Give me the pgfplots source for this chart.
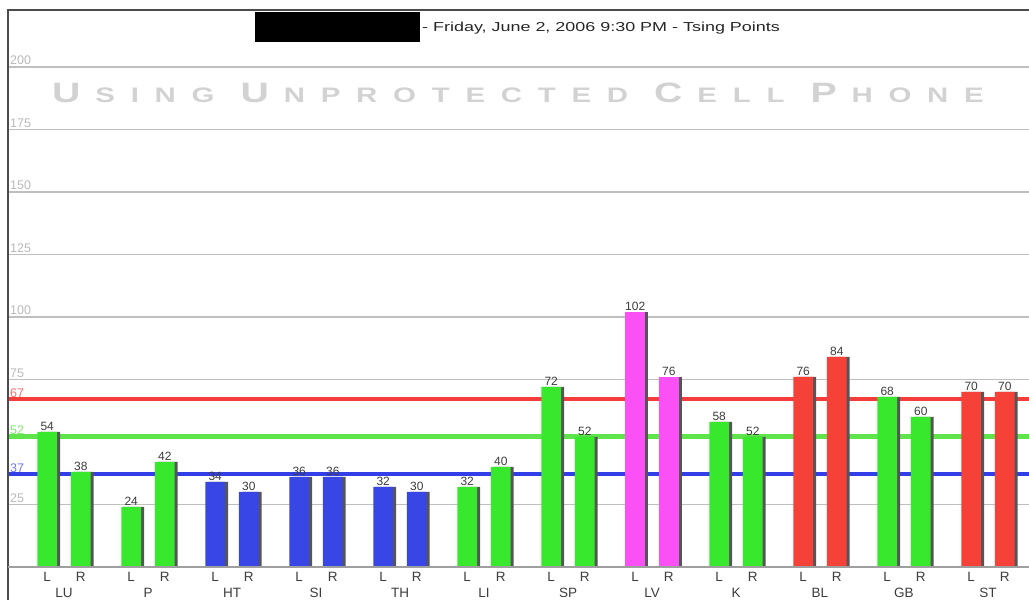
\documentclass[border=0pt]{standalone}
\usepackage{fontspec}
\setmainfont{Liberation Sans}
\newfontfamily\spaced[LetterSpace=75,FakeStretch=1.4]{Liberation Sans}
\newfontfamily\header[FakeStretch=1.38]{Liberation Sans}
\usepackage{pgfplots}
\usepackage{pgfplotstable}
\pgfplotsset{compat=1.18}

\definecolor{cgreen}{RGB}{55,232,45}
\definecolor{cblue}{RGB}{55,70,228}
\definecolor{cmag}{RGB}{250,80,245}
\definecolor{cred}{RGB}{245,65,55}
\definecolor{lred}{RGB}{245,60,60}
\definecolor{lgreen}{RGB}{95,228,75}
\definecolor{lblue}{RGB}{50,62,232}
\definecolor{shadow}{RGB}{85,85,85}
\definecolor{txt}{RGB}{60,60,60}
\definecolor{ticklbl}{RGB}{185,185,185}
\definecolor{titlegray}{RGB}{210,210,210}

% columns: group index, left value, right value
\pgfplotstableread{
x L R
0 54 38
1 24 42
5 32 40
6 72 52
8 58 52
10 68 60
}\greendata
\pgfplotstableread{
x L R
2 34 30
3 36 36
4 32 30
}\bluedata
\pgfplotstableread{
x L R
7 102 76
}\magdata
\pgfplotstableread{
x L R
9 76 84
11 70 70
}\reddata

\newcommand\BigCap[1]{{\fontsize{28}{28}\selectfont #1}\hspace{15pt}}

\begin{document}
\begin{tikzpicture}
\useasboundingbox (-8pt,-33pt) rectangle (1021pt,567pt);
\begin{axis}[
  at={(0,0)}, anchor=south west,
  scale only axis, width=1021pt, height=557pt,
  xmin=-0.667, xmax=11.488, ymin=0, ymax=222.8,
  axis line style={draw=none},
  clip=false,
  bar width=0.235,
  /pgf/number format/assume math mode=true,
  major tick length=0pt,
  xtick={-0.2,0.2,0.8,1.2,1.8,2.2,2.8,3.2,3.8,4.2,4.8,5.2,5.8,6.2,6.8,7.2,7.8,8.2,8.8,9.2,9.8,10.2,10.8,11.2},
  xticklabels={L,R,L,R,L,R,L,R,L,R,L,R,L,R,L,R,L,R,L,R,L,R,L,R},
  xticklabel style={font=\fontsize{13.5}{13.5}\selectfont, text=txt, inner sep=0pt, yshift=-5pt},
  extra x ticks={0,1,2,3,4,5,6,7,8,9,10,11},
  extra x tick labels={LU,P,HT,SI,TH,LI,SP,LV,K,BL,GB,ST},
  extra x tick style={grid=none, tick label style={yshift=-16pt}},
  ytick={25,75,100,125,150,175,200},
  ymajorgrids,
  major grid style={draw=gray!50, line width=1.2pt},
  yticklabel style={anchor=south west, inner sep=0pt, xshift=2pt, yshift=2pt, font=\fontsize{12.5}{12.5}\selectfont, text=ticklbl},
  extra y ticks={37,52,67},
  extra y tick labels={\textcolor{lblue!70}{37},\textcolor{lgreen!80}{52},\textcolor{lred!75}{67}},
  extra y tick style={grid=none},
  every node near coord/.append style={font=\fontsize{12}{12}\selectfont, text=txt, inner sep=1.5pt},
]
% reference lines
\addplot[lred, line width=4pt, forget plot] coordinates {(-0.667,67) (11.488,67)};
\addplot[lgreen, line width=5pt, forget plot] coordinates {(-0.667,52) (11.488,52)};
\addplot[lblue, line width=4pt, forget plot] coordinates {(-0.667,37) (11.488,37)};

% shadows
\pgfplotsset{shadowbar/.style={ybar, bar shift=0, fill=shadow, draw=none, forget plot}}
\addplot[shadowbar] table[x expr=\thisrow{x}-0.165,y=L]{\greendata};
\addplot[shadowbar] table[x expr=\thisrow{x}+0.235,y=R]{\greendata};
\addplot[shadowbar] table[x expr=\thisrow{x}-0.165,y=L]{\bluedata};
\addplot[shadowbar] table[x expr=\thisrow{x}+0.235,y=R]{\bluedata};
\addplot[shadowbar] table[x expr=\thisrow{x}-0.165,y=L]{\magdata};
\addplot[shadowbar] table[x expr=\thisrow{x}+0.235,y=R]{\magdata};
\addplot[shadowbar] table[x expr=\thisrow{x}-0.165,y=L]{\reddata};
\addplot[shadowbar] table[x expr=\thisrow{x}+0.235,y=R]{\reddata};

% bars
\pgfplotsset{mainbar/.style={ybar, bar shift=0, draw=none, fill=#1, nodes near coords}}
\addplot[mainbar=cgreen] table[x expr=\thisrow{x}-0.2,y=L]{\greendata};
\addplot[mainbar=cgreen] table[x expr=\thisrow{x}+0.2,y=R]{\greendata};
\addplot[mainbar=cblue] table[x expr=\thisrow{x}-0.2,y=L]{\bluedata};
\addplot[mainbar=cblue] table[x expr=\thisrow{x}+0.2,y=R]{\bluedata};
\addplot[mainbar=cmag] table[x expr=\thisrow{x}-0.2,y=L]{\magdata};
\addplot[mainbar=cmag] table[x expr=\thisrow{x}+0.2,y=R]{\magdata};
\addplot[mainbar=cred] table[x expr=\thisrow{x}-0.2,y=L]{\reddata};
\addplot[mainbar=cred] table[x expr=\thisrow{x}+0.2,y=R]{\reddata};

% frame and baseline
\draw[gray!60!black, line width=1.5pt] (rel axis cs:1,1) -- (rel axis cs:0,1) -- ([yshift=-33pt]rel axis cs:0,0);
\draw[gray!75, line width=2.5pt] (rel axis cs:0,0) -- (rel axis cs:1,0);

% header
\fill[black] ([xshift=247pt,yshift=-2pt]rel axis cs:0,1) rectangle ([xshift=412pt,yshift=-32pt]rel axis cs:0,1);
\node[anchor=west, inner sep=0pt, font=\header\fontsize{13}{13}\selectfont, text=black!85] at ([xshift=414pt,yshift=-18pt]rel axis cs:0,1) {- Friday, June 2, 2006 9:30 PM - Tsing Points};
\node[anchor=center, inner sep=0pt, text=titlegray] at ([xshift=510pt,yshift=-83pt]rel axis cs:0,1)
  {\spaced\bfseries\fontsize{21}{21}\selectfont\BigCap{U}SING\hspace{26pt}\BigCap{U}NPROTECTED\hspace{26pt}\BigCap{C}ELL\hspace{26pt}\BigCap{P}HONE};
\end{axis}
\end{tikzpicture}
\end{document}
